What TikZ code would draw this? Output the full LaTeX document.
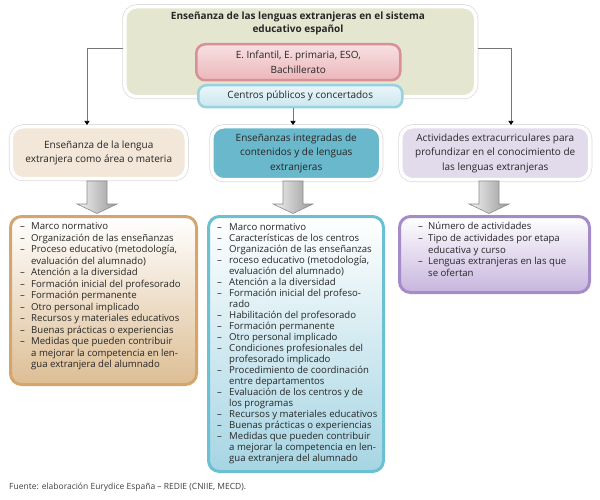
\documentclass[tikz,border=0pt]{standalone}
\usepackage{fontspec}
\setmainfont{Open Sans}
\usetikzlibrary{arrows.meta}
\definecolor{txt}{HTML}{262626}
\definecolor{greenfill}{HTML}{E4E6D0}
\definecolor{pinktop}{HTML}{F8E0E2}
\definecolor{pinkbot}{HTML}{EBB6BB}
\definecolor{pinkline}{HTML}{D98F96}
\definecolor{bluetop}{HTML}{EAF6F9}
\definecolor{bluebot}{HTML}{CBE7EF}
\definecolor{blueline}{HTML}{96D2E1}
\definecolor{tanfill}{HTML}{F2E7D8}
\definecolor{tealfill}{HTML}{69B8CC}
\definecolor{lavfill}{HTML}{E2DBEC}
\definecolor{tanline}{HTML}{D4A66E}
\definecolor{tanbot}{HTML}{DDBE94}
\definecolor{tealline}{HTML}{6CC0D3}
\definecolor{tealbot}{HTML}{A6D5E3}
\definecolor{lavline}{HTML}{A68BC9}
\definecolor{lavbot}{HTML}{C7B5DE}
\definecolor{connc}{HTML}{777777}
\newcommand\dd{–}
\tikzset{
  glowbox/.style={rounded corners=12pt, draw=white, line width=3.5pt,
    preaction={draw=black!14, line width=5pt}},
  lvltwo/.style={glowbox, inner sep=0pt, anchor=north west},
  ltext/.style={text=txt, align=center, font=\fontsize{10}{14.5}\selectfont, inner sep=0pt},
  lthree/.style={rounded corners=11pt, line width=3pt, inner sep=0pt, anchor=north west,
    shading=axis, top color=white, shading angle=0},
  listtext/.style={text=txt, inner sep=0pt, anchor=north west},
  conn/.style={draw=connc, line width=0.7pt, -{Triangle[width=5pt,length=4pt,color=black]}},
  grayarr/.style={draw=black!45, line width=0.6pt, left color=black!5, right color=black!40},
}
\begin{document}
\begin{tikzpicture}[x=1pt,y=-1pt]
\useasboundingbox[fill=white] (0,0) rectangle (600,500);
% top box
\node[lvltwo, fill=greenfill, minimum width=351pt, minimum height=90pt] (top) at (123,5) {};
\node[ltext, font=\bfseries\fontsize{10}{13}\selectfont] (title) at (298,23.5) {Enseñanza de las lenguas extranjeras en el sistema\\educativo español};
\node[rounded corners=9pt, draw=pinkline, line width=2.5pt, shading=axis, top color=pinktop, bottom color=pinkbot,
  minimum width=204pt, minimum height=36pt, inner sep=0pt, anchor=north west] (etapas) at (195,43) {};
\node[ltext] at (etapas.center) {E. Infantil, E. primaria, ESO,\\Bachillerato};
\node[rounded corners=8pt, draw=blueline, line width=2.5pt, shading=axis, top color=bluetop, bottom color=bluebot,
  minimum width=204pt, minimum height=22pt, inner sep=0pt, anchor=north west] (centros) at (197,84) {};
\node[ltext] at (centros.center) {Centros públicos y concertados};
% level two
\node[lvltwo, fill=tanfill, minimum width=175pt, minimum height=52pt] (ba) at (9.5,125) {};
\node[ltext] at (ba.center) {Enseñanza de la lengua\\extranjera como área o materia};
\node[lvltwo, fill=tealfill, minimum width=169pt, minimum height=53pt] (bb) at (210,125) {};
\node[ltext] at (bb.center) {Enseñanzas integradas de\\contenidos y de lenguas\\extranjeras};
\node[lvltwo, fill=lavfill, minimum width=189pt, minimum height=53pt] (bc) at (399,125) {};
\node[ltext] at (bc.center) {Actividades extracurriculares para\\profundizar en el conocimiento de\\las lenguas extranjeras};
% connectors
\coordinate (jl) at (87,48);
\coordinate (jr) at (511,48);
\draw[conn] (top.west |- jl) -- (jl) -- (jl |- ba.north);
\draw[conn] (top.east |- jr) -- (jr) -- (jr |- bc.north);
\coordinate (jm) at (293,106);
\draw[conn] (jm |- centros.south) -- (jm |- bb.north);
% gray arrows
\foreach \cx in {97,293,489}{
  \path[grayarr] (\cx-10,181) -- (\cx+10,181) -- (\cx+10,204) -- (\cx+20,204) -- (\cx,213.5) -- (\cx-20,204) -- (\cx-10,204) -- cycle;
}
% level three
\node[lthree, draw=tanline, bottom color=tanbot, minimum width=186pt, minimum height=168pt] (la) at (9,215) {};
\node[lthree, draw=tealline, bottom color=tealbot, minimum width=175pt, minimum height=255pt] (lb) at (207,215) {};
\node[lthree, draw=lavline, bottom color=lavbot, minimum width=190pt, minimum height=76pt] (lc) at (398,215) {};
\node[listtext, font=\fontsize{9.6}{11.5}\selectfont] (ta) at (20,221.5) {%
\begin{tabular}{@{}p{11pt}@{}l@{}}
\dd & Marco normativo\\
\dd & Organización de las enseñanzas\\
\dd & Proceso educativo (metodología,\\
    & evaluación del alumnado)\\
\dd & Atención a la diversidad\\
\dd & Formación inicial del profesorado\\
\dd & Formación permanente\\
\dd & Otro personal implicado\\
\dd & Recursos y materiales educativos\\
\dd & Buenas prácticas o experiencias\\
\dd & Medidas que pueden contribuir\\
    & a mejorar la competencia en len-\\
    & gua extranjera del alumnado
\end{tabular}};
\node[listtext, font=\fontsize{9.6}{11}\selectfont] (tb) at (217,222.5) {%
\begin{tabular}{@{}p{12pt}@{}l@{}}
\dd & Marco normativo\\
\dd & Características de los centros\\
\dd & Organización de las enseñanzas\\
\dd & roceso educativo (metodología,\\
    & evaluación del alumnado)\\
\dd & Atención a la diversidad\\
\dd & Formación inicial del profeso-\\
    & rado\\
\dd & Habilitación del profesorado\\
\dd & Formación permanente\\
\dd & Otro personal implicado\\
\dd & Condiciones profesionales del\\
    & profesorado implicado\\
\dd & Procedimiento de coordinación\\
    & entre departamentos\\
\dd & Evaluación de los centros y de\\
    & los programas\\
\dd & Recursos y materiales educativos\\
\dd & Buenas prácticas o experiencias\\
\dd & Medidas que pueden contribuir\\
    & a mejorar la competencia en len-\\
    & gua extranjera del alumnado
\end{tabular}};
\node[listtext, font=\fontsize{9.6}{11.7}\selectfont] (tc) at (418,221.5) {%
\begin{tabular}{@{}p{10pt}@{}l@{}}
\dd & Número de actividades\\
\dd & Tipo de actividades por etapa\\
    & educativa y curso\\
\dd & Lenguas extranjeras en las que\\
    & se ofertan
\end{tabular}};
% footer
\node[text=black!75, font=\fontsize{8.5}{10}\selectfont, anchor=west, inner sep=0pt] (src) at (9,487) {Fuente: elaboración Eurydice España – REDIE (CNIIE, MECD).};
\end{tikzpicture}
\end{document}
